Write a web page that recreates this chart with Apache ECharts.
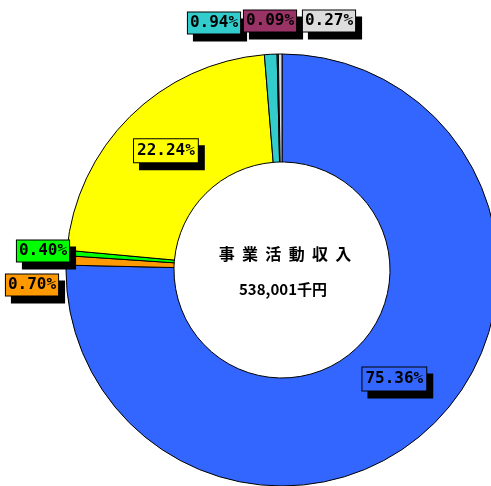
<!DOCTYPE html>
<html>
<head>
<meta charset="utf-8">
<style>html,body{margin:0;padding:0;background:#fff;}#c{width:491px;height:486px;}</style>
<script src="https://cdn.jsdelivr.net/npm/echarts@6/dist/echarts.min.js"></script>
</head>
<body>
<div id="c"></div>
<script>
const categories = ['A', 'B', 'C', 'D', 'E', 'F', 'G'];
const values = [75.36, 0.70, 0.40, 22.24, 0.94, 0.09, 0.27];
const colors = ['#3366FF', '#FF9900', '#00FF00', '#FFFF00', '#33CCCC', '#993366', '#DDDDDD'];
const centerTitle = '事  業  活  動  収  入';
const centerValue = '538,001千円';

// outside label positions for small slices (label centres)
const labelPos = {1: [32, 285], 2: [43, 251], 4: [214, 23], 5: [270, 21], 6: [329, 21]};
// small nudges for inside labels
const labelNudge = {0: [-3, -9], 3: [0, -2]};

const chart = echarts.init(document.getElementById('c'), null, {renderer: 'canvas'});
chart.setOption({
  backgroundColor: '#fff',
  animation: false,
  series: [{
    type: 'pie',
    center: [282, 270],
    radius: [108, 216],
    startAngle: 90,
    clockwise: true,
    avoidLabelOverlap: false,
    itemStyle: {borderColor: '#000', borderWidth: 1},
    label: {
      show: true,
      position: 'inside',
      formatter: p => p.value.toFixed(2) + '%',
      fontFamily: 'DejaVu Sans Mono',
      fontWeight: 'bold',
      fontSize: 16,
      color: '#000',
      borderColor: '#000',
      borderWidth: 1,
      shadowColor: '#000',
      shadowBlur: 0,
      shadowOffsetX: 6,
      shadowOffsetY: 7
    },
    labelLine: {show: false},
    labelLayout: function (p) {
      const pos = labelPos[p.dataIndex];
      if (pos) return {x: pos[0], y: pos[1], align: 'center', verticalAlign: 'middle'};
      const n = labelNudge[p.dataIndex];
      if (n) return {dx: n[0], dy: n[1]};
      return {};
    },
    emphasis: {disabled: true},
    data: categories.map((c, i) => ({
      name: c, value: values[i],
      itemStyle: {color: colors[i]},
      label: {backgroundColor: colors[i], padding: (i === 0 || i === 3) ? [4, 3, 3, 3] : [3, 2, 2, 2]}
    }))
  }],
  graphic: [
    {type: 'text', x: 285, y: 254, style: {text: centerTitle, font: 'bold 16px "Noto Sans CJK JP"', fill: '#000', align: 'center', verticalAlign: 'middle'}},
    {type: 'text', x: 283, y: 289, style: {text: centerValue, font: 'bold 15px "Liberation Sans Narrow", "Noto Sans CJK JP"', fill: '#000', align: 'center', verticalAlign: 'middle'}}
  ]
});
</script>
</body>
</html>
